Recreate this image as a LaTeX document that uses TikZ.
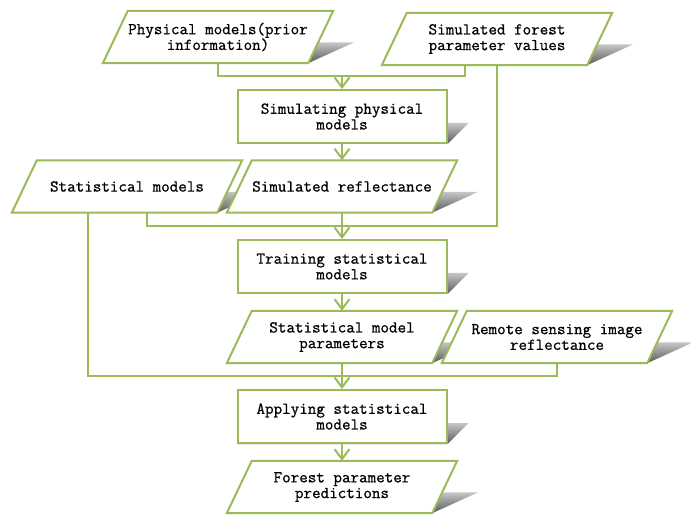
\documentclass[tikz,border=0pt]{standalone}
\usepackage{fontspec}
\newfontfamily\labelfam{Latin Modern Mono}[FakeBold=0.8]
\usetikzlibrary{arrows.meta,calc}
\definecolor{olivegreen}{RGB}{155,187,89}
\pgfdeclarelayer{paper}
\pgfdeclarelayer{shad}
\pgfdeclarelayer{bg}
\pgfsetlayers{paper,shad,bg,main}
\tikzset{
  shapeline/.style={draw=olivegreen, line width=2pt, fill=white, line join=miter},
  shadowfill/.style={top color=gray!45, bottom color=black!65},
  labelfont/.style={font=\fontsize{16.6}{15.7}\selectfont\labelfam, text=black},
  datatext/.style={labelfont, minimum width=205pt, minimum height=52pt, inner sep=0pt, align=center},
  procbox/.style={labelfont, shapeline, minimum width=209pt, minimum height=53pt, inner sep=0pt, align=center},
  conn/.style={draw=olivegreen, line width=2pt},
  arr/.style={conn, -{Straight Barb[length=10pt,width=15pt,line width=2pt]}},
}
\newcommand\paraoutline[1]{%
  \begin{pgfonlayer}{shad}
    \path[shadowfill] ([xshift=-12.5pt]#1.south west) -- ([xshift=-12.5pt]#1.south east)
      -- ([xshift=33.3pt,yshift=20.8pt]#1.south east) -- ([xshift=33.3pt,yshift=20.8pt]#1.south west) -- cycle;
  \end{pgfonlayer}
  \begin{pgfonlayer}{bg}
    \path[shapeline] ([xshift=12.5pt]#1.north west) -- ([xshift=12.5pt]#1.north east)
      -- ([xshift=-12.5pt]#1.south east) -- ([xshift=-12.5pt]#1.south west) -- cycle;
  \end{pgfonlayer}}
\newcommand\boxshadow[1]{%
  \begin{pgfonlayer}{shad}
    \path[shadowfill] (#1.south west) -- (#1.south east)
      -- ([xshift=21pt,yshift=21pt]#1.south east) -- ([xshift=21pt,yshift=21pt]#1.south west) -- cycle;
  \end{pgfonlayer}}
\begin{document}
\begin{tikzpicture}[x=1pt,y=-1pt]
\begin{pgfonlayer}{paper}
\fill[white] (0,0) rectangle (691,521);
\end{pgfonlayer}
\useasboundingbox (0,0) rectangle (691,521);
% nodes
\node[datatext] (p1) at (218,37) {Physical models(prior\\information)};
\node[datatext] (p2) at (497,39) {Simulated forest\\parameter values};
\node[procbox] (sim) at (342,116.5) {Simulating physical\\models};
\node[datatext] (stat) at (127,186.5) {Statistical models};
\node[datatext] (srefl) at (342,186.5) {Simulated reflectance};
\node[procbox] (train) at (342,266.5) {Training statistical\\models};
\node[datatext] (smp) at (342,337) {Statistical model\\parameters};
\node[datatext] (remote) at (557,337) {Remote sensing image\\reflectance};
\node[procbox] (apply) at (342,416.5) {Applying statistical\\models};
\node[datatext] (fpp) at (342,487) {Forest parameter\\predictions};
% outlines and shadows
\paraoutline{p1}\paraoutline{p2}\paraoutline{stat}\paraoutline{srefl}
\paraoutline{smp}\paraoutline{remote}\paraoutline{fpp}
\boxshadow{sim}\boxshadow{train}\boxshadow{apply}
% merge points
\coordinate (m1) at (342,76.5);
\coordinate (m2) at (342,226);
\coordinate (m3) at (342,376);
% connectors
\draw[conn] (p1.south) |- (m1);
\draw[conn] ([xshift=-32pt]p2.south) |- (m1);
\draw[arr] (m1) -- (sim.north);
\draw[arr] (sim.south) -- (srefl.north);
\draw[conn] ([xshift=20pt]stat.south) |- (m2);
\draw[conn] (p2.south) |- (m2);
\draw[conn] (srefl.south) -- (m2);
\draw[arr] (m2) -- (train.north);
\draw[arr] (train.south) -- (smp.north);
\draw[conn] ([xshift=-39pt]stat.south) |- (m3);
\draw[conn] (remote.south) |- (m3);
\draw[conn] (smp.south) -- (m3);
\draw[arr] (m3) -- (apply.north);
\draw[arr] (apply.south) -- (fpp.north);
\end{tikzpicture}
\end{document}
